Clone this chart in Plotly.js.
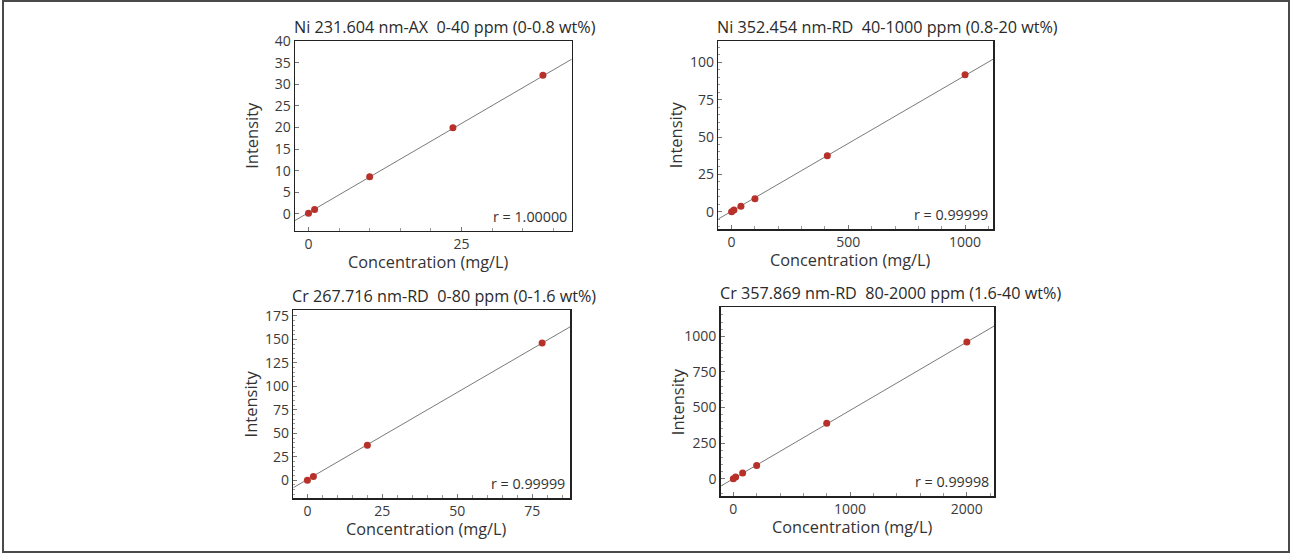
<!DOCTYPE html>
<html>
<head>
<meta charset="utf-8">
<script src="https://cdn.plot.ly/plotly-3.0.1.min.js"></script>
<style>html,body{margin:0;padding:0;background:#fff}#chart{width:1291px;height:553px}</style>
</head>
<body>
<div id="chart"></div>
<script>
// ---- data ----
const titles = [
  "Ni 231.604 nm-AX  0-40 ppm (0-0.8 wt%)",
  "Ni 352.454 nm-RD  40-1000 ppm (0.8-20 wt%)",
  "Cr 267.716 nm-RD  0-80 ppm (0-1.6 wt%)",
  "Cr 357.869 nm-RD  80-2000 ppm (1.6-40 wt%)"
];
const rLabels = ["r = 1.00000", "r = 0.99999", "r = 0.99999", "r = 0.99998"];
const xTitle = "Concentration (mg/L)";
const yTitle = "Intensity";

const concNi231 = [0, 1, 10, 23.6, 38.3];
const intNi231  = [0.15, 1.0, 8.6, 19.9, 32.1];
const concNi352 = [0, 10, 40, 100, 410, 1000];
const intNi352  = [0, 1.1, 3.6, 8.7, 37.5, 91.7];
const concCr267 = [0, 2, 20, 78.3];
const intCr267  = [0, 3.9, 37.3, 146.2];
const concCr357 = [0, 20, 80, 200, 800, 2000];
const intCr357  = [0, 12, 40, 94, 389, 960];

const fitSlope     = [0.826, 0.0909, 1.855, 0.48];
const fitIntercept = [0.27, 0.28, 0.82, 0.2];

// ---- layout helpers ----
const W = 1291, H = 553;
const concs = [concNi231, concNi352, concCr267, concCr357];
const ints  = [intNi231, intNi352, intCr267, intCr357];

// plot boxes in pixels [left, right, top, bottom]
const boxes = [
  [295, 571.7, 41, 230.7],
  [718.3, 993.3, 41, 229],
  [293.3, 570, 310.3, 498],
  [720.7, 994.3, 307, 496]
];
const xRanges = [[-2.2, 43], [-57, 1121], [-4.7, 87.6], [-108, 2235]];
const yRanges = [[-3.9, 40], [-11.6, 114.3], [-18.9, 181], [-121, 1206]];
const xDticks = [25, 500, 25, 1000];
const xMinor  = [5, 100, 5, 200];
const yDticks = [5, 25, 25, 250];
const yMinor  = [null, 5, 5, 50];

const traces = [];
const layout = {
  width: W, height: H,
  margin: {l: 0, r: 0, t: 0, b: 0},
  paper_bgcolor: "#ffffff",
  plot_bgcolor: "#ffffff",
  showlegend: false,
  font: {family: "Open Sans, Noto Sans, sans-serif", size: 14, color: "#333"},
  annotations: [],
  shapes: [{
    type: "rect", xref: "paper", yref: "paper",
    x0: 3 / W, x1: 1289 / W, y0: 1 - 552 / H, y1: 1 - 1 / H,
    line: {color: "#4a4a4a", width: 2}
  }]
};

for (let i = 0; i < 4; i++) {
  const sfx = i === 0 ? "" : String(i + 1);
  const xa = "x" + sfx, ya = "y" + sfx;
  const b = boxes[i];
  const xr = xRanges[i];

  // fit line across the full x range
  traces.push({
    x: xr, y: xr.map(v => fitSlope[i] * v + fitIntercept[i]),
    xaxis: xa, yaxis: ya, mode: "lines", type: "scatter",
    line: {color: "#7a7a7a", width: 1}, hoverinfo: "skip"
  });
  traces.push({
    x: concs[i], y: ints[i],
    xaxis: xa, yaxis: ya, mode: "markers", type: "scatter",
    marker: {color: "#b8302a", size: 7}
  });

  const axCommon = {
    showgrid: false, zeroline: false, showline: true, mirror: true,
    linecolor: "#222", linewidth: 1.5,
    ticks: "inside", ticklen: 4, tickcolor: "#777", tickwidth: 1,
    tickfont: {size: 14, color: "#3a3a3a"},
    fixedrange: true
  };
  layout["xaxis" + sfx] = Object.assign({}, axCommon, {
    domain: [b[0] / W, b[1] / W],
    anchor: ya, range: xr, dtick: xDticks[i], tick0: 0,
    minor: {ticks: "inside", ticklen: 3, tickcolor: "#999", dtick: xMinor[i], tick0: 0}
  });
  const yax = Object.assign({}, axCommon, {
    domain: [1 - b[3] / H, 1 - b[2] / H],
    anchor: xa, range: yRanges[i], dtick: yDticks[i], tick0: 0
  });
  if (yMinor[i]) yax.minor = {ticks: "inside", ticklen: 2, tickcolor: "#999", dtick: yMinor[i], tick0: 0};
  layout["yaxis" + sfx] = yax;

  // x axis title
  layout.annotations.push({
    text: xTitle, xref: "paper", yref: "paper",
    x: ((b[0] + b[1]) / 2 - 5) / W, y: 1 - (b[3] + 31) / H,
    xanchor: "center", yanchor: "middle",
    showarrow: false, font: {size: 16.3, color: "#333"}
  });
  // y axis title (fixed distance from the plot frame)
  layout.annotations.push({
    text: yTitle, xref: "paper", yref: "paper",
    x: (b[0] - 43) / W, y: 1 - (b[2] + b[3]) / 2 / H,
    xanchor: "center", yanchor: "middle", textangle: -90,
    showarrow: false, font: {size: 16.5, color: "#333"}
  });
  // panel title
  layout.annotations.push({
    text: titles[i], xref: "paper", yref: "paper",
    x: b[0] / W, y: 1 - b[2] / H, xanchor: "left", yanchor: "bottom",
    xshift: -3, yshift: 1, showarrow: false, font: {size: 16.2, color: "#2a2a2a"}
  });
  // r value
  layout.annotations.push({
    text: rLabels[i], xref: xa + " domain", yref: ya + " domain",
    x: 1, y: 0, xanchor: "right", yanchor: "bottom",
    xshift: -3, yshift: 3, showarrow: false, font: {size: 14.3, color: "#333"}
  });
}

Plotly.newPlot("chart", traces, layout, {displayModeBar: false, staticPlot: true});
</script>
</body>
</html>
